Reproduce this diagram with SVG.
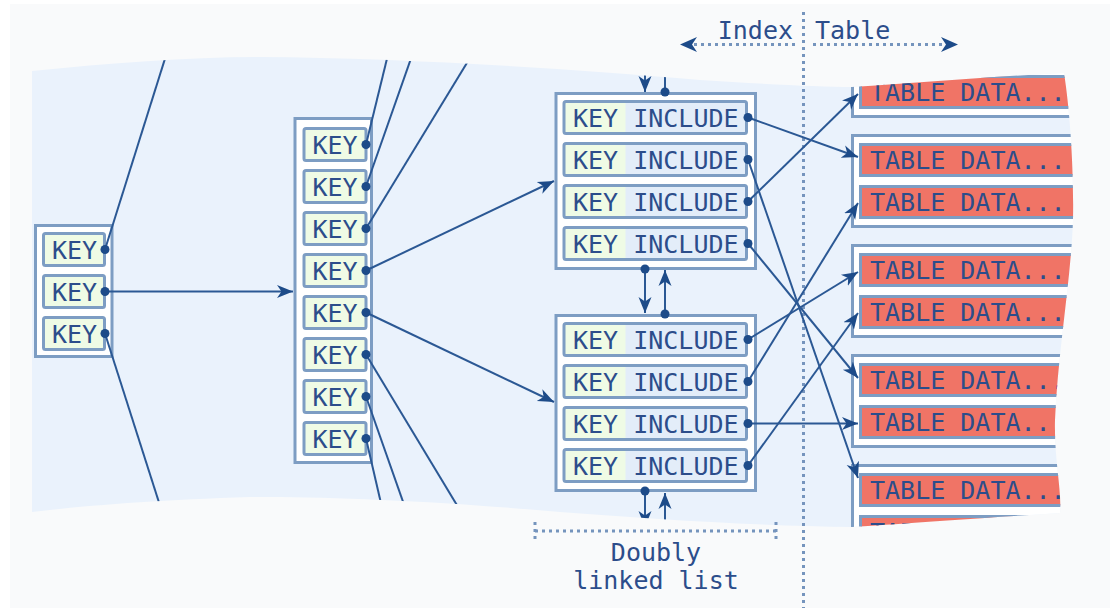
<svg xmlns="http://www.w3.org/2000/svg" width="1110" height="608" viewBox="0 0 1110 608">
<defs>
<style>
.frame{fill:#fff;stroke:#7d9dc3;stroke-width:3}
.row{stroke:#7d9dc3;stroke-width:3;fill:none}
.key{fill:#effbe5}
.inc{fill:#e3edf9}
.red{fill:#f07466;stroke:#7d9dc3;stroke-width:3}
.t{font-family:"DejaVu Sans Mono",monospace;font-size:25px;fill:#2c4d8b}
.c{stroke:#2b5894;stroke-width:2;fill:none}
.a{marker-end:url(#ah)}
.dot{fill:#1d4b89}
.dotted{stroke:#7594bd;stroke-width:3;stroke-dasharray:3 4;fill:none}
</style>
<marker id="ah" markerWidth="18" markerHeight="16" refX="16" refY="8" orient="auto" markerUnits="userSpaceOnUse"><path d="M0,1.5 L16,8 L0,14.5 L4.5,8 Z" fill="#1d4b89"/></marker>
<clipPath id="band"><path d="M32,71 C110,63 190,57 260,57 C400,58 560,68 700,80 C760,84 820,87 852,87 C920,83 1000,76 1064,73 C1070,110 1074,170 1073,220 C1071,280 1058,350 1055,420 C1054,460 1062,490 1060,513 C980,518 900,524 852,527 C760,526 650,519 560,512 C450,502 330,496 250,497 C160,500 90,505 32,512 Z"/></clipPath>
</defs>
<rect width="1110" height="608" fill="#fff"/>
<rect x="10" y="4" width="1100" height="604" fill="#f9fafb"/>
<path d="M32,71 C110,63 190,57 260,57 C400,58 560,68 700,80 C760,84 820,87 852,87 C920,83 1000,76 1064,73 C1070,110 1074,170 1073,220 C1071,280 1058,350 1055,420 C1054,460 1062,490 1060,513 C980,518 900,524 852,527 C760,526 650,519 560,512 C450,502 330,496 250,497 C160,500 90,505 32,512 Z" fill="#eaf2fc"/>

<g id="divider">
<line class="dotted" x1="803.5" y1="12" x2="803.5" y2="608"/>
<path class="dotted" d="M795,44.5 L688,44.5"/>
<path d="M680,44.5 L697,37 L692,44.5 L697,52 Z" fill="#1d4b89"/>
<path class="dotted" d="M813,44.5 L950,44.5"/>
<path d="M958,44.5 L941,37 L946,44.5 L941,52 Z" fill="#1d4b89"/>
<text class="t" x="793" y="39" text-anchor="end">Index</text>
<text class="t" x="815" y="39">Table</text>
</g>

<g id="root">
<rect class="frame" x="35.5" y="225.5" width="76.5" height="131"/>
<rect class="key" x="43.5" y="233.5" width="61" height="32"/><rect class="row" x="43.5" y="233.5" width="61" height="32" rx="2"/>
<rect class="key" x="43.5" y="275.5" width="61" height="32"/><rect class="row" x="43.5" y="275.5" width="61" height="32" rx="2"/>
<rect class="key" x="43.5" y="317.5" width="61" height="32"/><rect class="row" x="43.5" y="317.5" width="61" height="32" rx="2"/>
<text class="t" x="52" y="258.5">KEY</text>
<text class="t" x="52" y="300.5">KEY</text>
<text class="t" x="52" y="342.5">KEY</text>
</g>

<g id="branch">
<rect class="frame" x="295" y="118.5" width="76.5" height="344"/>
<g>
<rect class="key" x="304" y="128.5" width="62" height="32"/><rect class="row" x="304" y="128.5" width="62" height="32" rx="2"/>
<rect class="key" x="304" y="170.5" width="62" height="32"/><rect class="row" x="304" y="170.5" width="62" height="32" rx="2"/>
<rect class="key" x="304" y="212.5" width="62" height="32"/><rect class="row" x="304" y="212.5" width="62" height="32" rx="2"/>
<rect class="key" x="304" y="254.5" width="62" height="32"/><rect class="row" x="304" y="254.5" width="62" height="32" rx="2"/>
<rect class="key" x="304" y="296.5" width="62" height="32"/><rect class="row" x="304" y="296.5" width="62" height="32" rx="2"/>
<rect class="key" x="304" y="338.5" width="62" height="32"/><rect class="row" x="304" y="338.5" width="62" height="32" rx="2"/>
<rect class="key" x="304" y="380.5" width="62" height="32"/><rect class="row" x="304" y="380.5" width="62" height="32" rx="2"/>
<rect class="key" x="304" y="422.5" width="62" height="32"/><rect class="row" x="304" y="422.5" width="62" height="32" rx="2"/>
</g>
<text class="t" x="312.5" y="153.5">KEY</text>
<text class="t" x="312.5" y="195.5">KEY</text>
<text class="t" x="312.5" y="237.5">KEY</text>
<text class="t" x="312.5" y="279.5">KEY</text>
<text class="t" x="312.5" y="321.5">KEY</text>
<text class="t" x="312.5" y="363.5">KEY</text>
<text class="t" x="312.5" y="405.5">KEY</text>
<text class="t" x="312.5" y="447.5">KEY</text>
</g>

<g id="leaf1">
<rect class="frame" x="556" y="93.5" width="199.5" height="175"/>
<rect class="inc" x="564" y="101.5" width="182.5" height="32"/><rect class="key" x="564" y="101.5" width="61.5" height="32"/><rect class="row" x="564" y="101.5" width="182.5" height="32" rx="2"/>
<rect class="inc" x="564" y="143.5" width="182.5" height="32"/><rect class="key" x="564" y="143.5" width="61.5" height="32"/><rect class="row" x="564" y="143.5" width="182.5" height="32" rx="2"/>
<rect class="inc" x="564" y="185.5" width="182.5" height="32"/><rect class="key" x="564" y="185.5" width="61.5" height="32"/><rect class="row" x="564" y="185.5" width="182.5" height="32" rx="2"/>
<rect class="inc" x="564" y="227.5" width="182.5" height="32"/><rect class="key" x="564" y="227.5" width="61.5" height="32"/><rect class="row" x="564" y="227.5" width="182.5" height="32" rx="2"/>
<text class="t" x="573" y="126.5">KEY INCLUDE</text>
<text class="t" x="573" y="168.5">KEY INCLUDE</text>
<text class="t" x="573" y="210.5">KEY INCLUDE</text>
<text class="t" x="573" y="252.5">KEY INCLUDE</text>
</g>

<g id="leaf2">
<rect class="frame" x="556" y="315.5" width="199.5" height="175"/>
<rect class="inc" x="564" y="323.5" width="182.5" height="32"/><rect class="key" x="564" y="323.5" width="61.5" height="32"/><rect class="row" x="564" y="323.5" width="182.5" height="32" rx="2"/>
<rect class="inc" x="564" y="365.5" width="182.5" height="32"/><rect class="key" x="564" y="365.5" width="61.5" height="32"/><rect class="row" x="564" y="365.5" width="182.5" height="32" rx="2"/>
<rect class="inc" x="564" y="407.5" width="182.5" height="32"/><rect class="key" x="564" y="407.5" width="61.5" height="32"/><rect class="row" x="564" y="407.5" width="182.5" height="32" rx="2"/>
<rect class="inc" x="564" y="449.5" width="182.5" height="32"/><rect class="key" x="564" y="449.5" width="61.5" height="32"/><rect class="row" x="564" y="449.5" width="182.5" height="32" rx="2"/>
<text class="t" x="573" y="348.5">KEY INCLUDE</text>
<text class="t" x="573" y="390.5">KEY INCLUDE</text>
<text class="t" x="573" y="432.5">KEY INCLUDE</text>
<text class="t" x="573" y="474.5">KEY INCLUDE</text>
</g>

<g id="table1" clip-path="url(#band)">
<rect class="frame" x="852.5" y="25.5" width="300" height="91"/>
<rect class="red" x="860.5" y="34.5" width="300" height="31"/>
<rect class="red" x="860.5" y="76.5" width="300" height="31"/>
<text class="t" x="870" y="59">TABLE DATA...</text>
<text class="t" x="870" y="101">TABLE DATA...</text>
</g>
<g id="table2" clip-path="url(#band)">
<rect class="frame" x="852.5" y="135.5" width="300" height="91"/>
<rect class="red" x="860.5" y="144.5" width="300" height="31"/>
<rect class="red" x="860.5" y="186.5" width="300" height="31"/>
<text class="t" x="870" y="169">TABLE DATA...</text>
<text class="t" x="870" y="211">TABLE DATA...</text>
</g>
<g id="table3" clip-path="url(#band)">
<rect class="frame" x="852.5" y="245.5" width="300" height="91"/>
<rect class="red" x="860.5" y="254.5" width="300" height="31"/>
<rect class="red" x="860.5" y="296.5" width="300" height="31"/>
<text class="t" x="870" y="279">TABLE DATA...</text>
<text class="t" x="870" y="321">TABLE DATA...</text>
</g>
<g id="table4" clip-path="url(#band)">
<rect class="frame" x="852.5" y="355.5" width="300" height="91"/>
<rect class="red" x="860.5" y="364.5" width="300" height="31"/>
<rect class="red" x="860.5" y="406.5" width="300" height="31"/>
<text class="t" x="870" y="389">TABLE DATA...</text>
<text class="t" x="870" y="431">TABLE DATA...</text>
</g>
<g id="table5" clip-path="url(#band)">
<rect class="frame" x="852.5" y="465.5" width="300" height="91"/>
<rect class="red" x="860.5" y="474.5" width="300" height="31"/>
<rect class="red" x="860.5" y="516.5" width="300" height="31"/>
<text class="t" x="870" y="499">TABLE DATA...</text>
<text class="t" x="870" y="541">TABLE DATA...</text>
</g>

<g id="connectors" clip-path="url(#band)">
<line class="c" x1="105" y1="249.5" x2="174" y2="30"/>
<line class="c a" x1="105" y1="291.5" x2="293" y2="291.5"/>
<line class="c" x1="105" y1="333.5" x2="171" y2="540"/>
<line class="c" x1="366" y1="144.5" x2="394" y2="30"/>
<line class="c" x1="366" y1="186.5" x2="421" y2="30"/>
<line class="c" x1="366" y1="228.5" x2="487" y2="30"/>
<line class="c a" x1="366" y1="270.5" x2="554" y2="181"/>
<line class="c a" x1="366" y1="312.5" x2="554" y2="402"/>
<line class="c" x1="366" y1="354.5" x2="478" y2="540"/>
<line class="c" x1="366" y1="396.5" x2="416.5" y2="540"/>
<line class="c" x1="366" y1="438.5" x2="389.5" y2="540"/>
<line class="c a" x1="645" y1="40" x2="645" y2="92"/>
<line class="c" x1="665" y1="92" x2="665" y2="40"/>
<line class="c a" x1="645" y1="269" x2="645" y2="313"/>
<line class="c a" x1="665" y1="314" x2="665" y2="270"/>
<line class="c a" x1="645" y1="491" x2="645" y2="527"/>
<line class="c a" x1="665" y1="545" x2="665" y2="493"/>
<line class="c a" x1="748" y1="117.5" x2="858" y2="157"/>
<line class="c a" x1="748" y1="159.5" x2="858" y2="478"/>
<line class="c a" x1="748" y1="201.5" x2="858" y2="94"/>
<line class="c a" x1="748" y1="243.5" x2="858" y2="378"/>
<line class="c a" x1="748" y1="339.5" x2="858" y2="272"/>
<line class="c a" x1="748" y1="381.5" x2="858" y2="203"/>
<line class="c a" x1="748" y1="423.5" x2="858" y2="423.5"/>
<line class="c a" x1="748" y1="465.5" x2="858" y2="313"/>
<circle class="dot" cx="105" cy="249.5" r="4.5"/>
<circle class="dot" cx="105" cy="291.5" r="4.5"/>
<circle class="dot" cx="105" cy="333.5" r="4.5"/>
<circle class="dot" cx="366" cy="144.5" r="4.5"/>
<circle class="dot" cx="366" cy="186.5" r="4.5"/>
<circle class="dot" cx="366" cy="228.5" r="4.5"/>
<circle class="dot" cx="366" cy="270.5" r="4.5"/>
<circle class="dot" cx="366" cy="312.5" r="4.5"/>
<circle class="dot" cx="366" cy="354.5" r="4.5"/>
<circle class="dot" cx="366" cy="396.5" r="4.5"/>
<circle class="dot" cx="366" cy="438.5" r="4.5"/>
<circle class="dot" cx="748" cy="117.5" r="4.5"/>
<circle class="dot" cx="748" cy="159.5" r="4.5"/>
<circle class="dot" cx="748" cy="201.5" r="4.5"/>
<circle class="dot" cx="748" cy="243.5" r="4.5"/>
<circle class="dot" cx="748" cy="339.5" r="4.5"/>
<circle class="dot" cx="748" cy="381.5" r="4.5"/>
<circle class="dot" cx="748" cy="423.5" r="4.5"/>
<circle class="dot" cx="748" cy="465.5" r="4.5"/>
<circle class="dot" cx="665" cy="92" r="4.5"/>
<circle class="dot" cx="645" cy="269" r="4.5"/>
<circle class="dot" cx="665" cy="314" r="4.5"/>
<circle class="dot" cx="645" cy="491" r="4.5"/>
</g>

<g id="list-label">
<path class="dotted" d="M535,522 L535,541 M535,531 L776,531 M776,522 L776,541"/>
<text class="t" x="656" y="561" text-anchor="middle">Doubly</text>
<text class="t" x="656" y="589" text-anchor="middle">linked list</text>
</g>
</svg>
